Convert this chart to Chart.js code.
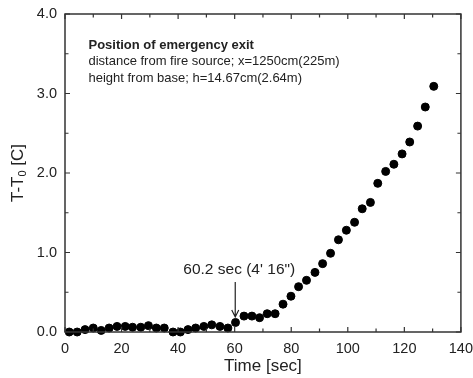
<!DOCTYPE html>
<html>
<head>
<meta charset="utf-8">
<script src="https://cdn.jsdelivr.net/npm/chart.js@4"></script>
<style>
  html, body { margin: 0; padding: 0; background: #fff; }
  #wrap { width: 473px; height: 378px; }
</style>
</head>
<body>
<div id="wrap"><canvas id="tempChart" width="473" height="378"></canvas></div>
<script>
// data
const timeSec = [1.5, 4.3, 7.1, 10.0, 12.8, 15.6, 18.4, 21.3, 23.9, 26.8, 29.5, 32.3, 35.1, 38.2, 40.8, 43.5, 46.2, 49.1, 51.9, 54.8, 57.6, 60.3, 63.3, 66.1, 68.8, 71.5, 74.3, 77.1, 79.9, 82.6, 85.4, 88.4, 91.1, 93.9, 96.7, 99.5, 102.4, 105.1, 108.0, 110.6, 113.4, 116.3, 119.2, 121.9, 124.7, 127.4, 130.4];
const tempRise = [0.0, 0.0, 0.03, 0.05, 0.02, 0.05, 0.07, 0.07, 0.06, 0.06, 0.08, 0.05, 0.05, 0.0, 0.0, 0.03, 0.05, 0.07, 0.09, 0.07, 0.05, 0.12, 0.2, 0.2, 0.18, 0.23, 0.23, 0.35, 0.45, 0.57, 0.65, 0.75, 0.86, 0.99, 1.16, 1.28, 1.38, 1.55, 1.63, 1.87, 2.02, 2.11, 2.24, 2.39, 2.59, 2.83, 3.09];

const headerLines = ['Position of emergency exit', 'distance from fire source; x=1250cm(225m)', 'height from base; h=14.67cm(2.64m)'];
const headerX = 8.3;
const headerY = [3.61, 3.40, 3.19];

const markTime = 60.2;
const markLabel = '60.2 sec (4\' 16")';
const arrowTop = 0.63, arrowTip = 0.19;

const FONT = '"Liberation Sans", Arial, sans-serif';
const INK = '#222';

// frame + inward ticks + texts
const framePlugin = {
  id: 'frame',
  afterDraw(chart) {
    const { ctx, chartArea: a, scales: { x, y } } = chart;
    ctx.save();
    ctx.strokeStyle = '#333';
    ctx.lineWidth = 1.5;
    ctx.strokeRect(a.left, a.top, a.right - a.left, a.bottom - a.top);

    ctx.lineWidth = 1.2;
    ctx.beginPath();
    for (let v = 0; v <= 140; v += 10) {
      const px = x.getPixelForValue(v);
      const len = v % 20 === 0 ? 5 : 3.5;
      ctx.moveTo(px, a.bottom); ctx.lineTo(px, a.bottom - len);
      ctx.moveTo(px, a.top); ctx.lineTo(px, a.top + len);
    }
    for (let v = 0; v <= 4; v += 0.5) {
      const py = y.getPixelForValue(v);
      const len = v % 1 === 0 ? 5 : 3.5;
      ctx.moveTo(a.left, py); ctx.lineTo(a.left + len, py);
      ctx.moveTo(a.right, py); ctx.lineTo(a.right - len, py);
    }
    ctx.stroke();

    // header text
    ctx.fillStyle = INK;
    ctx.textBaseline = 'middle';
    ctx.textAlign = 'left';
    headerLines.forEach((t, i) => {
      ctx.font = (i === 0 ? 'bold ' : '') + '13px ' + FONT;
      ctx.fillText(t, x.getPixelForValue(headerX), y.getPixelForValue(headerY[i]));
    });

    // arrow to the marked point
    const ax = x.getPixelForValue(markTime);
    const y0 = y.getPixelForValue(arrowTop), y1 = y.getPixelForValue(arrowTip);
    ctx.strokeStyle = '#222';
    ctx.lineWidth = 1.2;
    ctx.beginPath();
    ctx.moveTo(ax, y0); ctx.lineTo(ax, y1);
    ctx.moveTo(ax - 3.5, y1 - 7); ctx.lineTo(ax, y1); ctx.lineTo(ax + 3.5, y1 - 7);
    ctx.stroke();
    ctx.font = '15.5px ' + FONT;
    ctx.textAlign = 'center';
    ctx.fillText(markLabel, ax + 4, y0 - 12);

    // axis titles
    ctx.font = '17px ' + FONT;
    ctx.fillText('Time [sec]', (a.left + a.right) / 2, 366);

    ctx.translate(18, (a.top + a.bottom) / 2);
    ctx.rotate(-Math.PI / 2);
    const w1 = ctx.measureText('T-T').width;
    ctx.font = '11px ' + FONT;
    const w2 = ctx.measureText('0').width;
    ctx.font = '17px ' + FONT;
    const w3 = ctx.measureText(' [C]').width;
    let sx = -(w1 + w2 + w3) / 2;
    ctx.textAlign = 'left';
    ctx.fillText('T-T', sx, 0);
    sx += w1;
    ctx.font = '11px ' + FONT;
    ctx.fillText('0', sx, 5);
    sx += w2;
    ctx.font = '17px ' + FONT;
    ctx.fillText(' [C]', sx, 0);
    ctx.restore();
  }
};

new Chart(document.getElementById('tempChart'), {
  type: 'scatter',
  data: {
    datasets: [{
      data: timeSec.map((t, i) => ({ x: t, y: tempRise[i] })),
      backgroundColor: '#000',
      borderColor: '#000',
      pointRadius: 4,
      pointHoverRadius: 4,
      clip: false
    }]
  },
  options: {
    responsive: false,
    animation: false,
    layout: { padding: { top: 14, right: 11, left: 0, bottom: 0 } },
    plugins: { legend: { display: false }, tooltip: { enabled: false } },
    scales: {
      x: {
        type: 'linear', min: 0, max: 140,
        grid: { display: false },
        border: { display: false },
        ticks: { stepSize: 20, color: INK, font: { family: FONT, size: 14.5 }, padding: 0, maxRotation: 0 },
        afterFit(s) { s.height = 46; }
      },
      y: {
        type: 'linear', min: 0, max: 4,
        grid: { display: false },
        border: { display: false },
        ticks: { stepSize: 1, color: INK, font: { family: FONT, size: 14.5 }, padding: 0,
          callback: v => v.toFixed(1) },
        afterFit(s) { s.width = 65; }
      }
    }
  },
  plugins: [framePlugin]
});
</script>
</body>
</html>
